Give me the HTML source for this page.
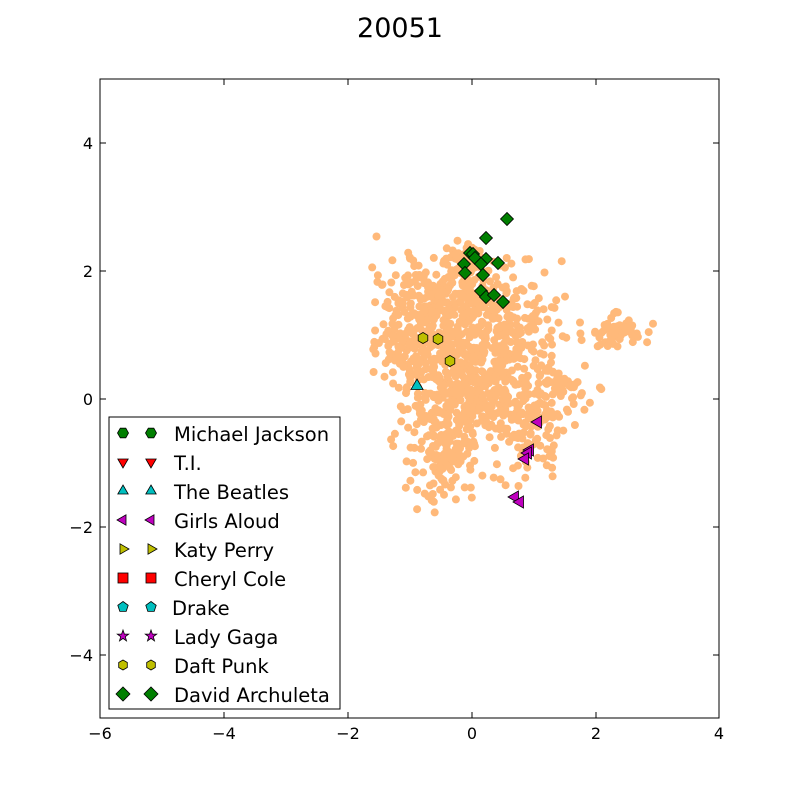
<!DOCTYPE html>
<html><head><meta charset="utf-8"><style>
html,body{margin:0;padding:0;background:#fff;}
svg text{font-family:"DejaVu Sans","Liberation Sans",sans-serif;}
</style></head><body>
<svg id="s" width="800" height="800" xmlns="http://www.w3.org/2000/svg">
<rect width="800" height="800" fill="#fff"/>
<text x="400" y="37" font-size="27" text-anchor="middle">20051</text>
<g id="cloud" fill="#ffb97a"></g>
<g id="mk" stroke="#000" stroke-width="0.8"></g>
<rect x="100" y="79" width="619" height="639" fill="none" stroke="#000" stroke-width="1"/>
<g id="ticks" stroke="#000" stroke-width="1"></g>
<g font-size="16" text-anchor="middle">
<text x="100" y="739">−6</text><text x="224" y="739">−4</text><text x="348" y="739">−2</text>
<text x="472" y="739">0</text><text x="596" y="739">2</text><text x="719" y="739">4</text>
</g>
<g font-size="16" text-anchor="end">
<text x="93" y="149">4</text><text x="93" y="277">2</text><text x="93" y="405">0</text>
<text x="93" y="533">−2</text><text x="93" y="661">−4</text>
</g>
<rect x="109" y="417" width="231" height="292" fill="#fff" stroke="#000" stroke-width="1"/>
<g id="leg" stroke="#000" stroke-width="0.8"></g>
<g font-size="19.5" id="legt">
<text x="174" y="441">Michael Jackson</text>
<text x="174" y="470">T.I.</text>
<text x="174" y="499">The Beatles</text>
<text x="174" y="528">Girls Aloud</text>
<text x="174" y="557">Katy Perry</text>
<text x="174" y="586">Cheryl Cole</text>
<text x="172" y="615">Drake</text>
<text x="174" y="644">Lady Gaga</text>
<text x="174" y="673">Daft Punk</text>
<text x="174" y="702">David Archuleta</text>
</g>
</svg>
<script>
var NS="http://www.w3.org/2000/svg";
function el(p,t,a){var e=document.createElementNS(NS,t);for(var k in a)e.setAttribute(k,a[k]);p.appendChild(e);return e;}
var seed=12345;function r(){seed=(seed*1103515245+12345)%2147483648;return seed/2147483648;}
function g(){var z;do{var u=r()||1e-9,v=r();z=Math.sqrt(-2*Math.log(u))*Math.cos(2*Math.PI*v);}while(Math.abs(z)>2.8);return z;}
var cl=document.getElementById("cloud");
var C=[[470,385,30,34,420],[440,300,28,25,230],[412,340,20,20,140],[505,322,28,28,190],
[442,455,18,26,120],[530,420,20,24,120],[615,333,14,8,60],[462,262,13,10,45],[560,385,16,13,50]];
C.forEach(function(c){for(var i=0;i<c[4];i++){var x=c[0]+g()*c[2],y=c[1]+g()*c[3];
el(cl,"circle",{cx:x.toFixed(1),cy:y.toFixed(1),r:4});}});
var tk=document.getElementById("ticks");
[100,224,348,472,596,719].forEach(function(x){el(tk,"line",{x1:x,y1:718,x2:x,y2:712});el(tk,"line",{x1:x,y1:79,x2:x,y2:85});});
[143,271,399,527,655].forEach(function(y){el(tk,"line",{x1:100,y1:y,x2:106,y2:y});el(tk,"line",{x1:719,y1:y,x2:713,y2:y});});
function poly(p,pts,f){el(p,"polygon",{points:pts.map(function(q){return q[0].toFixed(1)+","+q[1].toFixed(1)}).join(" "),fill:f});}
function reg(p,x,y,n,R,rot,f){var a=[];for(var i=0;i<n;i++){var t=rot+i*2*Math.PI/n;a.push([x+R*Math.cos(t),y+R*Math.sin(t)]);}poly(p,a,f);}
function star(p,x,y,R,f){var a=[];for(var i=0;i<10;i++){var t=-Math.PI/2+i*Math.PI/5,rr=i%2?R*0.4:R;a.push([x+rr*Math.cos(t),y+rr*Math.sin(t)]);}poly(p,a,f);}
var mk=document.getElementById("mk");
[[423,338],[438,339],[450,361]].forEach(function(p){reg(mk,p[0],p[1],6,5.5,-Math.PI/2,"#bfbf00");});
reg(mk,417,386,3,7,-Math.PI/2,"#00bfbf");
[[538,422],[530,450],[528,453],[525,459],[515,497],[520,502]].forEach(function(p){reg(mk,p[0],p[1],3,7,Math.PI,"#bf00bf");});
[[507,219],[486,238],[470,253],[473,254],[475,258],[486,259],[464,264],[481,264],[498,263],[465,273],[483,275],[481,291],[486,297],[494,295],[503,302]].forEach(function(p){reg(mk,p[0],p[1],4,6.5,0,"#007f00");});
var lg=document.getElementById("leg");
for(var j=0;j<2;j++){var x=j?151:123;
reg(lg,x,433,6,5.5,0,"#007f00");
reg(lg,x,462,3,6,Math.PI/2,"#ff0000");
reg(lg,x,491,3,6,-Math.PI/2,"#00bfbf");
reg(lg,x,520,3,6,Math.PI,"#bf00bf");
reg(lg,x,549,3,6,0,"#bfbf00");
el(lg,"rect",{x:x-5,y:573,width:10,height:10,fill:"#ff0000"});
reg(lg,x,607,5,5.5,-Math.PI/2,"#00bfbf");
star(lg,x,636,6,"#bf00bf");
reg(lg,x,665,6,5,-Math.PI/2,"#bfbf00");
reg(lg,x,694,4,7,0,"#007f00");}
</script>
</body></html>
